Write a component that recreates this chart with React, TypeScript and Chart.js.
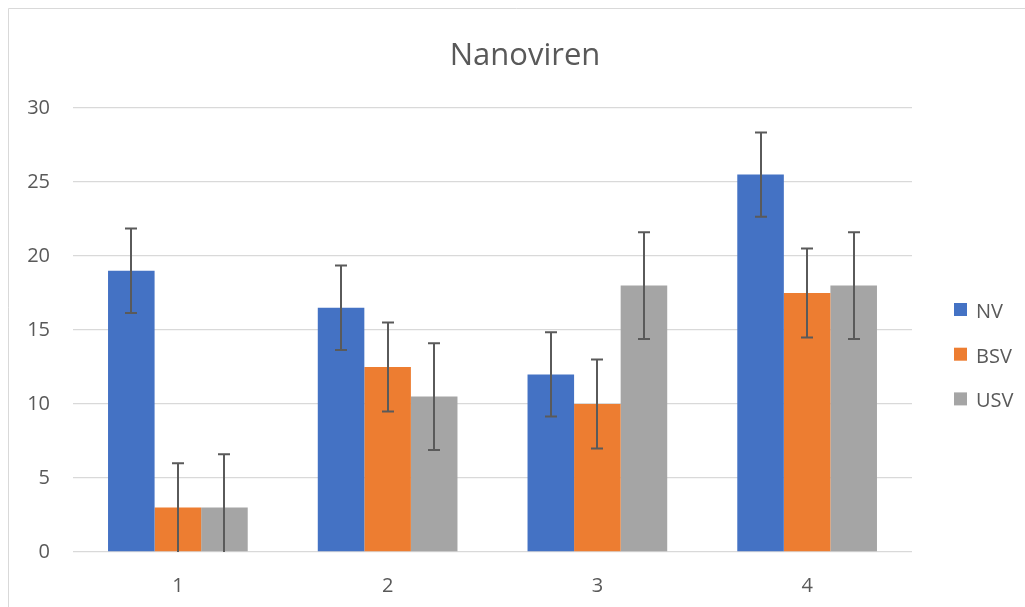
import React, { useEffect, useRef } from "react";
import { Chart, registerables } from "chart.js";

Chart.register(...registerables);

const chartTitle = "Nanoviren";
const categories = ["1", "2", "3", "4"];
const seriesNames = ["NV", "BSV", "USV"];
const nvValues = [19, 16.5, 12, 25.5];
const bsvValues = [3, 12.5, 10, 17.5];
const usvValues = [3, 10.5, 18, 18];
const nvErrors = [2.85, 2.85, 2.85, 2.85];
const bsvErrors = [3.0, 3.0, 3.0, 3.0];
const usvErrors = [3.6, 3.6, 3.6, 3.6];
const yTicks = [0, 5, 10, 15, 20, 25, 30];

const seriesColors = ["#4472C4", "#ED7D31", "#A5A5A5"];
const FONT = "'Open Sans', 'Noto Sans', sans-serif";
const TEXT = "#595959";
const GRID = "#D9D9D9";

const errorSets = [nvErrors, bsvErrors, usvErrors];

const backgroundPlugin = {
  id: "bgBorder",
  beforeDraw(chart: any) {
    const ctx = chart.ctx;
    ctx.save();
    ctx.fillStyle = "#ffffff";
    ctx.fillRect(0, 0, chart.width, chart.height);
    ctx.strokeStyle = GRID;
    ctx.lineWidth = 1;
    ctx.beginPath();
    ctx.moveTo(8.5, chart.height);
    ctx.lineTo(8.5, 8.5);
    ctx.lineTo(chart.width, 8.5);
    ctx.stroke();
    ctx.restore();
  },
};

const titlePlugin = {
  id: "customTitle",
  afterDraw(chart: any) {
    const ctx = chart.ctx;
    ctx.save();
    ctx.fillStyle = TEXT;
    ctx.font = `31px ${FONT}`;
    ctx.textAlign = "center";
    ctx.textBaseline = "alphabetic";
    ctx.fillText(chartTitle, 525, 65);
    ctx.restore();
  },
};

const legendPlugin = {
  id: "customLegend",
  afterDraw(chart: any) {
    const ctx = chart.ctx;
    ctx.save();
    chart.data.datasets.forEach((ds: any, i: number) => {
      const top = 303 + i * 44.7;
      ctx.fillStyle = ds.backgroundColor;
      ctx.fillRect(954, top, 13, 13);
      ctx.fillStyle = TEXT;
      ctx.font = `20px ${FONT}`;
      ctx.textAlign = "left";
      ctx.textBaseline = "alphabetic";
      ctx.fillText(ds.label, 976, top + 15);
    });
    ctx.restore();
  },
};

const errorBarPlugin = {
  id: "errorBars",
  afterDatasetsDraw(chart: any) {
    const ctx = chart.ctx;
    const y = chart.scales.y;
    const yMin = y.getPixelForValue(0);
    ctx.save();
    ctx.strokeStyle = "#5A5A5A";
    ctx.lineWidth = 2;
    chart.data.datasets.forEach((ds: any, i: number) => {
      const meta = chart.getDatasetMeta(i);
      const errs = errorSets[i];
      meta.data.forEach((el: any, j: number) => {
        const v = ds.data[j];
        const e = errs[j];
        const x = Math.round(el.x);
        const yTop = y.getPixelForValue(v + e);
        const lowVal = v - e;
        const yBot = lowVal > 0 ? y.getPixelForValue(lowVal) : yMin;
        ctx.beginPath();
        ctx.moveTo(x, yTop);
        ctx.lineTo(x, yBot);
        ctx.moveTo(x - 6, yTop);
        ctx.lineTo(x + 6, yTop);
        if (lowVal > 0) {
          ctx.moveTo(x - 6, yBot);
          ctx.lineTo(x + 6, yBot);
        }
        ctx.stroke();
      });
    });
    ctx.restore();
  },
};

export default function App() {
  const canvasRef = useRef<HTMLCanvasElement | null>(null);

  useEffect(() => {
    if (!canvasRef.current) return;
    const valueSets = [nvValues, bsvValues, usvValues];
    const chart = new Chart(canvasRef.current, {
      type: "bar",
      data: {
        labels: categories,
        datasets: seriesNames.map((name, i) => ({
          label: name,
          data: valueSets[i],
          backgroundColor: seriesColors[i],
          borderWidth: 0,
          categoryPercentage: 0.666,
          barPercentage: 1,
        })),
      },
      options: {
        animation: false,
        responsive: false,
        maintainAspectRatio: false,
        devicePixelRatio: 1,
        layout: { padding: { left: 0, right: 113, top: 108, bottom: 0 } },
        plugins: {
          legend: { display: false },
          title: { display: false },
          tooltip: { enabled: false },
        },
        scales: {
          x: {
            grid: { display: false, drawTicks: false },
            border: { display: false },
            ticks: { color: TEXT, font: { family: FONT, size: 20 }, padding: 22 },
            afterFit(scale: any) {
              scale.height = 55;
            },
          },
          y: {
            min: 0,
            max: 30,
            afterBuildTicks(scale: any) {
              scale.ticks = yTicks.map((v) => ({ value: v }));
            },
            grid: { color: GRID, lineWidth: 1.3, drawTicks: false },
            border: { display: false },
            ticks: { color: TEXT, font: { family: FONT, size: 20 }, padding: 23 },
            afterFit(scale: any) {
              scale.width = 73;
            },
          },
        },
      },
      plugins: [backgroundPlugin, errorBarPlugin, titlePlugin, legendPlugin],
    });
    return () => chart.destroy();
  }, []);

  return (
    <div style={{ position: "fixed", left: 0, top: 0, width: 1025, height: 607 }}>
      <canvas ref={canvasRef} width={1025} height={607} style={{ width: 1025, height: 607 }} />
    </div>
  );
}
